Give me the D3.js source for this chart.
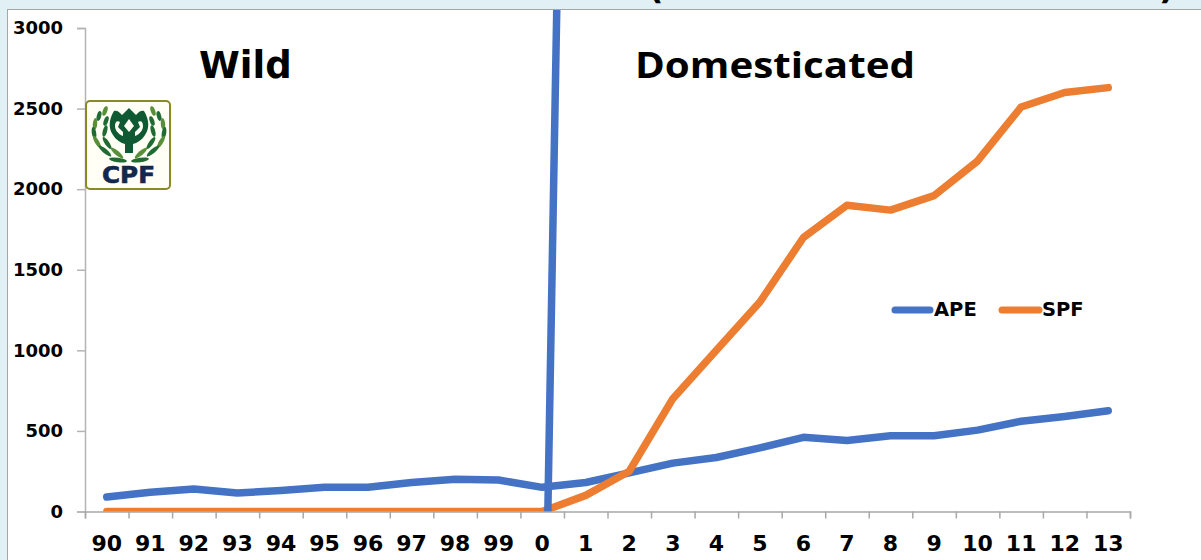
<!DOCTYPE html>
<html>
<head>
<meta charset="utf-8">
<script src="https://cdn.jsdelivr.net/npm/d3@7"></script>
<style>
html, body { margin: 0; padding: 0; background: #e1f0f5; overflow: hidden; }
svg { display: block; }
</style>
</head>
<body>
<script>
const years = ["90","91","92","93","94","95","96","97","98","99","0","1","2","3","4","5","6","7","8","9","10","11","12","13"];
const ape = [90,120,140,115,130,150,150,180,200,195,150,180,240,300,335,395,460,440,470,470,505,560,590,625];
const spf = [0,0,0,0,0,0,0,0,0,0,0,100,250,700,1000,1300,1700,1900,1870,1960,2175,2510,2600,2630];
const yTicks = [0,500,1000,1500,2000,2500,3000];
// the hand drawn divider between the two periods: [category position, value]
const divider = [[10.63,0],[10.84,3200]];

const width = 1201,
    height = 560,
    left = 85,
    right = 1130,
    top_ = 28,
    bottom = 511.5;

const svg = d3.select("body").append("svg")
    .attr("width", width)
    .attr("height", height);

// white plot panel
svg.append("rect")
    .attr("x", 7.5).attr("y", 9.5)
    .attr("width", width).attr("height", height)
    .attr("fill", "#fff")
    .attr("stroke", "#a6a6a6")
    .attr("stroke-width", 1);

// lines stop at the top of the panel and at the x axis
svg.append("clipPath").attr("id", "panel").append("rect")
    .attr("x", 8).attr("y", 10).attr("width", width).attr("height", bottom - 10);

// scales
const x = d3.scaleBand().domain(years).range([left, right]);
const edge = d3.scaleLinear().domain([0, years.length]).range([left, right]);
const y = d3.scaleLinear().domain([0, 3000]).range([bottom, top_]);

// y axis
const yAxis = svg.append("g")
    .attr("transform", "translate(" + left + ",0)")
    .call(d3.axisLeft(y).tickValues(yTicks).tickSize(8).tickPadding(14).tickFormat(d3.format("d")));
yAxis.selectAll("path, line").attr("stroke", "#b4b4b4").attr("stroke-width", 1.5);
yAxis.selectAll("text")
    .attr("font-family", "DejaVu Sans")
    .attr("font-weight", "bold")
    .attr("font-size", 18)
    .attr("fill", "#000");

// x axis, ticks sit on the band edges
const xTicks = svg.append("g")
    .attr("transform", "translate(0," + bottom + ")")
    .call(d3.axisBottom(edge).tickValues(d3.range(years.length + 1)).tickSize(7).tickSizeOuter(7).tickFormat(""));
xTicks.selectAll("path, line").attr("stroke", "#a8a8a8").attr("stroke-width", 1.5);

const xLabels = svg.append("g")
    .attr("transform", "translate(0," + bottom + ")")
    .call(d3.axisBottom(x).tickSize(0).tickPadding(24));
xLabels.select("path").remove();
xLabels.selectAll("text")
    .attr("font-family", "DejaVu Sans")
    .attr("font-weight", "bold")
    .attr("font-size", 22)
    .attr("fill", "#000");

// lines
const line = d3.line()
    .x((d, i) => x(years[i]) + x.bandwidth() / 2)
    .y(d => y(d));

const marks = svg.append("g").attr("clip-path", "url(#panel)");

marks.append("path")
    .attr("d", line(ape))
    .attr("fill", "none")
    .attr("stroke", "#4472c4")
    .attr("stroke-width", 7.5)
    .attr("stroke-linecap", "round")
    .attr("stroke-linejoin", "round");

marks.append("path")
    .attr("d", line(spf))
    .attr("fill", "none")
    .attr("stroke", "#ed7d31")
    .attr("stroke-width", 7.5)
    .attr("stroke-linecap", "round")
    .attr("stroke-linejoin", "round");

marks.append("path")
    .attr("d", d3.line().x(d => edge(d[0])).y(d => y(d[1]))(divider))
    .attr("fill", "none")
    .attr("stroke", "#4472c4")
    .attr("stroke-width", 7.5);

// period labels
svg.append("text")
    .attr("x", 199).attr("y", 78)
    .attr("font-family", "DejaVu Sans")
    .attr("font-weight", "bold")
    .attr("font-size", 37)
    .text("Wild");

svg.append("text")
    .attr("x", 635).attr("y", 78)
    .attr("font-family", "Open Sans")
    .attr("font-weight", "bold")
    .attr("font-size", 36)
    .attr("textLength", 280)
    .attr("lengthAdjust", "spacingAndGlyphs")
    .text("Domesticated");

// legend
const legendItems = [
    { name: "APE", color: "#4472c4", x1: 895, x2: 930, tx: 934 },
    { name: "SPF", color: "#ed7d31", x1: 1002, x2: 1039, tx: 1042 }
];
const legend = svg.selectAll(".legend").data(legendItems).enter().append("g").attr("class", "legend");
legend.append("line")
    .attr("x1", d => d.x1).attr("x2", d => d.x2)
    .attr("y1", 310).attr("y2", 310)
    .attr("stroke", d => d.color)
    .attr("stroke-width", 7)
    .attr("stroke-linecap", "round");
legend.append("text")
    .attr("x", d => d.tx).attr("y", 316)
    .attr("font-family", "DejaVu Sans")
    .attr("font-weight", "bold")
    .attr("font-size", 19.5)
    .text(d => d.name);

// the title is cut off by the top of the picture, only the bracket tails show
const titleBits = svg.append("g").attr("font-family", "DejaVu Sans").attr("font-weight", "bold").attr("font-size", 34);
titleBits.append("text").attr("x", 648).attr("y", -1).text("(");
titleBits.append("text").attr("x", 1159).attr("y", -1).text(")");

// CPF logo
const logo = svg.append("g").attr("transform", "translate(86,101)");
logo.append("rect")
    .attr("x", 0).attr("y", 0).attr("width", 84).attr("height", 88).attr("rx", 4)
    .attr("fill", "#fffff6")
    .attr("stroke", "#8a8a22")
    .attr("stroke-width", 2);

// tulip shaped emblem: dark outer, white slits, white diamond in the centre
logo.append("path")
    .attr("fill", "#0f5a32")
    .attr("d", "M43 7 L50 14 C53 10 56 9 58 10 C63 18 64 27 59 34 C56 39 51 42 47 43 L47 52 L39 52 L39 43 C35 42 30 39 27 34 C22 27 23 18 28 10 C30 9 33 10 36 14 Z");
logo.append("path")
    .attr("fill", "#fffff6")
    .attr("d", "M34 21 C31 19 29 21 29 25 C29 29 32 33 37 35 L37 31 L32 26 Z M52 21 C55 19 57 21 57 25 C57 29 54 33 49 35 L49 31 L54 26 Z M43 18 L38 25 L43 31 L48 25 Z");

// laurel branches: x, y, rotation, half length. One side mirrored for the other
const leaves = [
    [19,10,-70,5],[13,15,-75,5],[20,20,-70,5],[9,23,-85,6],[19,30,-75,6],[8,32,80,6],
    [11,41,60,7],[21,42,55,7],[19,50,40,8],[31,52,40,8],[32,59,8,9]
];
[1, -1].forEach(side => {
    const branch = logo.append("g")
        .attr("transform", side === 1 ? null : "translate(86,0) scale(-1,1)");
    branch.selectAll("ellipse").data(leaves).enter().append("ellipse")
        .attr("rx", d => d[3])
        .attr("ry", 2.2)
        .attr("fill", (d, i) => i % 3 ? "#1f6b33" : "#5a8f3a")
        .attr("transform", d => "translate(" + d[0] + "," + d[1] + ") rotate(" + d[2] + ")");
});

logo.append("text")
    .attr("x", 16).attr("y", 82)
    .attr("font-family", "DejaVu Sans")
    .attr("font-weight", "bold")
    .attr("font-size", 22.5)
    .attr("textLength", 53)
    .attr("lengthAdjust", "spacingAndGlyphs")
    .attr("fill", "#12284f")
    .attr("stroke", "#12284f")
    .attr("stroke-width", 0.6)
    .text("CPF");
</script>
</body>
</html>
